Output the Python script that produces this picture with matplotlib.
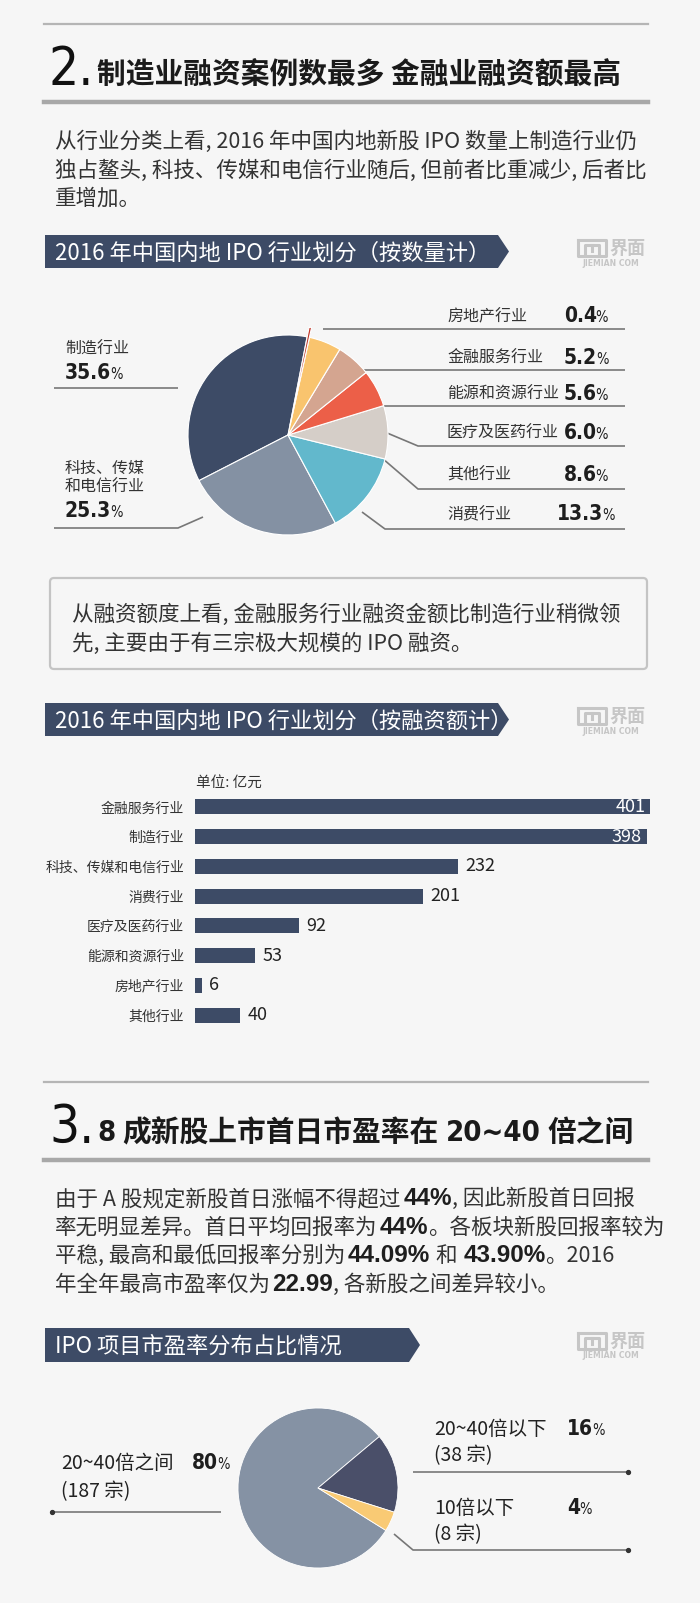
import matplotlib
matplotlib.use("Agg")
import matplotlib.pyplot as plt
from matplotlib import font_manager
from matplotlib.font_manager import FontProperties
from matplotlib.patches import Polygon, FancyBboxPatch

W, H = 700, 1603
BG = "#f6f6f6"
NAVY = "#3d4b66"
LINE = "#777777"

CJK = ["Noto Sans CJK SC", "DejaVu Sans"]
plt.rcParams["font.family"] = CJK


def is_condensed(f):
    return (str(f.stretch) in ("condensed", "semi-condensed", "extra-condensed")
            or "Narrow" in f.name or "Condensed" in f.name)


def weight_num(f):
    w = f.weight
    if isinstance(w, str):
        return {"bold": 700, "semibold": 600, "normal": 400, "regular": 400,
                "light": 300, "heavy": 800, "black": 900}.get(w.lower(), 400)
    return w


cond = [f for f in font_manager.fontManager.ttflist if is_condensed(f) and f.style == "normal"]
cond_bold = sorted([f for f in cond if weight_num(f) >= 700], key=lambda f: weight_num(f))
cond_reg = [f for f in cond if weight_num(f) == 400]
if cond_bold:
    NUMB_FP = dict(fontproperties=FontProperties(fname=cond_bold[0].fname))
    PCT_SIZE = 15
else:
    NUMB_FP = dict(family=["Liberation Sans"], weight="bold")
    PCT_SIZE = 13.5
if cond_reg:
    NUMR_FP = dict(fontproperties=FontProperties(fname=cond_reg[0].fname))
else:
    NUMR_FP = dict(family=["Liberation Sans"])

# ---- data ----
count_labels = ["制造行业", "科技、传媒和电信行业", "消费行业", "其他行业",
                "医疗及医药行业", "能源和资源行业", "金融服务行业", "房地产行业"]
count_share = [35.6, 25.3, 13.3, 8.6, 6.0, 5.6, 5.2, 0.4]
count_colors = ["#3d4b66", "#8491a3", "#62b8cc", "#d5cec8",
                "#ec5f48", "#d4a590", "#f9c46e", "#c0392b"]

amount_labels = ["金融服务行业", "制造行业", "科技、传媒和电信行业", "消费行业",
                 "医疗及医药行业", "能源和资源行业", "房地产行业", "其他行业"]
amount_values = [401, 398, 232, 201, 92, 53, 6, 40]

pe_labels = ["20~40倍之间", "20~40倍以下", "10倍以下"]
pe_share = [80, 16, 4]
pe_cases = [187, 38, 8]
pe_colors = ["#8592a4", "#4a4f69", "#f9ca74"]

# ---- canvas in pixel coordinates ----
fig = plt.figure(figsize=(W / 100, H / 100), dpi=100, facecolor=BG)
base = fig.add_axes([0, 0, 1, 1])
base.set_xlim(0, W)
base.set_ylim(H, 0)
base.axis("off")
renderer = fig.canvas.get_renderer()

R = dict(fontsize=15.5, color="#333333", family=CJK)
B = dict(fontsize=17.5, color="#1e1e1e", family=["Liberation Sans", "Noto Sans CJK SC"], weight="bold")
PCT = dict(fontsize=PCT_SIZE, color="#1e1e1e", **NUMB_FP)
PCT_S = dict(fontsize=10.5, color="#1e1e1e", **NUMR_FP)


def runs(x, y, parts, align="left"):
    objs, widths = [], []
    for p in parts:
        if isinstance(p, (int, float)):
            objs.append(None)
            widths.append(p)
            continue
        s, st = p
        t = base.text(0, y, s, va="baseline", ha="left", **st)
        objs.append(t)
        widths.append(t.get_window_extent(renderer).width)
    total = sum(widths)
    if align == "center":
        x -= total / 2
    elif align == "right":
        x -= total
    for o, w in zip(objs, widths):
        if o is not None:
            o.set_x(x)
        x += w


def pct(x, y, value, align="left"):
    runs(x, y, [(value, PCT), -1, ("%", PCT_S)], align=align)


def section_head(top, num, title_parts):
    base.plot([44, 648], [top, top], color="#b5b5b5", lw=1.6)
    base.text(49, top + 61, num, fontsize=38, color="#111111", va="baseline", **NUMR_FP)
    runs(97, top + 59, title_parts)
    base.plot([44, 648], [top + 78, top + 78], color="#a8a8a8", lw=3.2)


def banner(top, bottom, right, text):
    mid = (top + bottom) / 2
    base.add_patch(Polygon([(45, top), (right - 11, top), (right, mid),
                            (right - 11, bottom), (45, bottom)], closed=True,
                           facecolor=NAVY, edgecolor="none"))
    base.text(55, mid + 8, text, color="white", fontsize=16, va="baseline")
    logo(576, top + 3)


def logo(x, y):
    c = "#c6c6c6"
    base.plot([x + 2, x + 2, x + 30, x + 30, x + 2], [y + 2, y + 18, y + 18, y + 2, y + 2],
              color=c, lw=2.2)
    base.plot([x + 9, x + 9, x + 23, x + 23], [y + 18, y + 7, y + 7, y + 18], color=c, lw=2.2)
    base.plot([x + 16, x + 16], [y + 7, y + 13], color=c, lw=2.2)
    base.text(x + 33, y + 10, "界面", color=c, fontsize=13, weight="bold", va="center")
    base.text(x + 35, y + 25, "JIEMIAN COM", color=c, fontsize=5.6, weight="bold",
              family=["DejaVu Sans"], va="center", ha="center")


def leader(xs, ys, dot=False):
    base.plot(xs, ys, color=LINE, lw=1.2, solid_capstyle="butt")
    if dot:
        base.plot([xs[-1]], [ys[-1]], "o", color="#333333", ms=2.8)


# ---- section 2 ----
section_head(24, "2.", [("制造业融资案例数最多 金融业融资额最高",
                          dict(fontsize=20.7, weight="bold", color="#1a1a1a"))])
para1 = ["从行业分类上看, 2016 年中国内地新股 IPO 数量上制造行业仍",
         "独占鳌头, 科技、传媒和电信行业随后, 但前者比重减少, 后者比",
         "重增加。"]
for i, line in enumerate(para1):
    runs(55, 148 + i * 28.5, [(line, R)])

banner(235, 268, 509, "2016 年中国内地 IPO 行业划分（按数量计）")

# pie by count
cx, cy, r = 288, 435, 100
half = 112
pie1 = fig.add_axes([(cx - half) / W, 1 - (cy + half) / H, 2 * half / W, 2 * half / H])
pie1.pie(count_share, colors=count_colors, startangle=79, counterclock=True,
         explode=[0, 0, 0, 0, 0, 0, 0, 0.1],
         wedgeprops=dict(edgecolor="white", linewidth=0.8))
pie1.set_xlim(-half / r, half / r)
pie1.set_ylim(-half / r, half / r)
pie1.axis("off")

right_rows = [(7, 315, (323, 625), (329, 329)),
              (6, 357, (318, 625), (370, 370)),
              (5, 393, (316, 625), (406, 406)),
              (4, 432, (342, 418, 625), (414, 446, 446)),
              (3, 474, (375, 418, 625), (452, 489, 489)),
              (2, 513, (362, 385, 625), (512, 529, 529))]
for idx, yc, xs, ys in right_rows:
    base.text(447, yc + 6, count_labels[idx], fontsize=11.5, color="#333333", va="baseline")
    pct(586, yc + 7, f"{count_share[idx]:.1f}", align="center")
    leader(list(xs), list(ys))

base.text(65, 354, count_labels[0], fontsize=11.5, color="#333333", va="baseline")
pct(65, 379, f"{count_share[0]:.1f}")
leader([54, 178], [388, 388])
base.text(65, 473, "科技、传媒", fontsize=11.5, color="#333333", va="baseline")
base.text(65, 492, "和电信行业", fontsize=11.5, color="#333333", va="baseline")
pct(65, 517, f"{count_share[1]:.1f}")
leader([54, 178, 203], [528, 528, 517])

# box
base.add_patch(FancyBboxPatch((50, 578), 597, 91, boxstyle="round,pad=0,rounding_size=4",
                              facecolor=BG, edgecolor="#c4c4c4", lw=1.6))
box_lines = ["从融资额度上看, 金融服务行业融资金额比制造行业稍微领",
             "先, 主要由于有三宗极大规模的 IPO 融资。"]
for i, line in enumerate(box_lines):
    runs(72, 621 + i * 29, [(line, R)])

banner(703, 736, 509, "2016 年中国内地 IPO 行业划分（按融资额计）")

# bar chart by amount
px_per_unit = 1.135
bar_top, bar_bot = 792, 1030
bar_ax = fig.add_axes([195 / W, 1 - bar_bot / H, 465 / W, (bar_bot - bar_top) / H])
bar_ax.set_facecolor("none")
ypos = list(range(len(amount_values)))
bar_ax.barh(ypos, amount_values, height=0.5, color=NAVY)
bar_ax.set_xlim(0, 465 / px_per_unit)
bar_ax.set_ylim(len(amount_values) - 0.5, -0.5)
bar_ax.set_yticks(ypos, amount_labels, fontsize=10, color="#333333")
bar_ax.set_xticks([])
bar_ax.tick_params(axis="y", length=0, pad=8)
for s in bar_ax.spines.values():
    s.set_visible(False)
for yv, v in zip(ypos, amount_values):
    if v > 300:
        bar_ax.text(v - 5 / px_per_unit, yv, str(v), ha="right", va="center",
                    color="white", fontsize=13)
    else:
        bar_ax.text(v + 7 / px_per_unit, yv, str(v), ha="left", va="center",
                    color="#222222", fontsize=13)
base.text(196, 783, "单位: 亿元", fontsize=10.5, color="#333333", va="center")

# ---- section 3 ----
TN = dict(fontsize=21, color="#1a1a1a", **NUMB_FP)
TC = dict(fontsize=20.7, weight="bold", color="#1a1a1a")
section_head(1082, "3.", [("8", TN), 7, ("成新股上市首日市盈率在", TC), 7,
                          ("20~40", TN), 7, ("倍之间", TC)])

para3 = [
    [("由于 A 股规定新股首日涨幅不得超过", R), 3, ("44%", B), (", 因此新股首日回报", R)],
    [("率无明显差异。首日平均回报率为", R), 2, ("44%", B), ("。各板块新股回报率较为", R)],
    [("平稳, 最高和最低回报率分别为", R), 2, ("44.09%", B), 6, ("和", R), 6,
     ("43.90%", B), ("。2016", R)],
    [("年全年最高市盈率仅为", R), 2, ("22.99", B), (", 各新股之间差异较小。", R)],
]
for i, parts in enumerate(para3):
    runs(55, 1205 + i * 28.7, parts)

banner(1328, 1362, 420, "IPO 项目市盈率分布占比情况")

# pie by P/E range
cx, cy, r = 318, 1488, 80
half = 90
pie3 = fig.add_axes([(cx - half) / W, 1 - (cy + half) / H, 2 * half / W, 2 * half / H])
pie3.pie(pe_share, colors=pe_colors, startangle=328, counterclock=False,
         wedgeprops=dict(edgecolor="white", linewidth=0.6))
pie3.set_xlim(-half / r, half / r)
pie3.set_ylim(-half / r, half / r)
pie3.axis("off")

L13 = dict(fontsize=14, color="#222222")
base.text(61, 1469, pe_labels[0], va="baseline", **L13)
pct(192, 1469, str(pe_share[0]))
base.text(61, 1497, f"({pe_cases[0]} 宗)", va="baseline", **L13)
leader([52, 221], [1512, 1512])
base.plot([52], [1512], "o", color="#333333", ms=2.8)

base.text(434, 1435, pe_labels[1], va="baseline", **L13)
pct(567, 1435, str(pe_share[1]))
base.text(434, 1461, f"({pe_cases[1]} 宗)", va="baseline", **L13)
leader([413, 628], [1472, 1472], dot=True)

base.text(434, 1514, pe_labels[2], va="baseline", **L13)
pct(567, 1514, str(pe_share[2]))
base.text(434, 1540, f"({pe_cases[2]} 宗)", va="baseline", **L13)
leader([394, 413, 628], [1534, 1550, 1550], dot=True)

fig.savefig("out.png", dpi=100, facecolor=BG)
